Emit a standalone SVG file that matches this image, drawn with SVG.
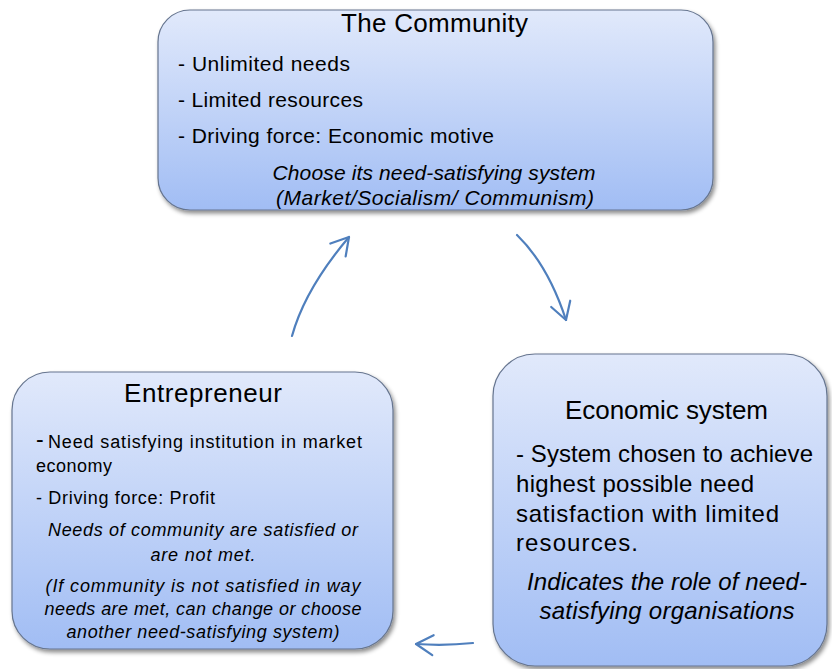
<svg xmlns="http://www.w3.org/2000/svg" width="832" height="669" viewBox="0 0 832 669">
  <style>
    .box { fill: url(#boxFill); stroke: #66758f; stroke-width: 1.2; filter: url(#shadow); }
    text { font-family: "Liberation Sans", Arial, sans-serif; fill: #000; }
    .title { font-size: 26px; text-anchor: middle; }
    .body { font-size: 21px; }
    .ent { font-size: 18px; }
    .eco { font-size: 24px; }
    .it { font-style: italic; text-anchor: middle; }
    .conn { fill: none; stroke: #4f7fbd; stroke-width: 2.2; stroke-linecap: round; marker-end: url(#chevron); }
  </style>
  <defs>
    <linearGradient id="boxFill" x1="0" y1="0" x2="0" y2="1">
      <stop offset="0" stop-color="#e1e9fb"/>
      <stop offset="1" stop-color="#a1bdf4"/>
    </linearGradient>
    <filter id="shadow" x="-10%" y="-10%" width="125%" height="130%">
      <feDropShadow dx="2" dy="3" stdDeviation="2" flood-color="#000" flood-opacity="0.45"/>
    </filter>
    <marker id="chevron" markerUnits="userSpaceOnUse" viewBox="-20 -12 22 24" refX="0" refY="0" markerWidth="22" markerHeight="24" orient="auto">
      <path d="M -17,-10 L 0,0 L -17,10" fill="none" stroke="#4f7fbd" stroke-width="2.2" stroke-linecap="round" stroke-linejoin="round"/>
    </marker>
  </defs>

  <g id="connectors">
    <path class="conn" d="M 292,336 Q 305,289 349,237"/>
    <path class="conn" d="M 517,235 Q 548,265 566,320"/>
    <path class="conn" d="M 473,643 Q 445,646 416,644"/>
  </g>

  <g id="community">
    <rect class="box" x="158" y="10" width="555" height="200" rx="32" ry="32"/>
    <text class="title" x="434.5" y="32" textLength="187">The Community</text>
    <text class="body" x="178" y="71" textLength="172">- Unlimited needs</text>
    <text class="body" x="178" y="107" textLength="185">- Limited resources</text>
    <text class="body" x="178" y="143" textLength="316">- Driving force: Economic motive</text>
    <text class="body it" x="434" y="180" textLength="323">Choose its need-satisfying system</text>
    <text class="body it" x="435" y="205" textLength="318">(Market/Socialism/ Communism)</text>
  </g>

  <g id="entrepreneur">
    <rect class="box" x="12" y="372" width="381" height="277" rx="38" ry="38"/>
    <text class="title" x="203" y="402" textLength="158">Entrepreneur</text>
    <text x="36" y="447" font-size="23">-</text>
    <text class="ent" x="48" y="448" textLength="314">Need satisfying institution in market</text>
    <text class="ent" x="36" y="472" textLength="76">economy</text>
    <text class="ent" x="36" y="504" textLength="179">- Driving force: Profit</text>
    <text class="ent it" x="203" y="536" textLength="310">Needs of community are satisfied or</text>
    <text class="ent it" x="203" y="561" textLength="105">are not met.</text>
    <text class="ent it" x="203" y="592" textLength="315">(If community is not satisfied in way</text>
    <text class="ent it" x="203" y="615" textLength="317">needs are met, can change or choose</text>
    <text class="ent it" x="203" y="638" textLength="273">another need-satisfying system)</text>
  </g>

  <g id="economic-system">
    <rect class="box" x="493" y="354" width="334" height="312" rx="42" ry="42"/>
    <text class="title" x="666.5" y="419" font-size="24" textLength="203">Economic system</text>
    <text class="eco" x="516" y="462" textLength="297">- System chosen to achieve</text>
    <text class="eco" x="516" y="492" textLength="238">highest possible need</text>
    <text class="eco" x="516" y="522" textLength="263">satisfaction with limited</text>
    <text class="eco" x="516" y="551" textLength="122">resources.</text>
    <text class="eco it" x="667" y="590" font-size="23" textLength="280">Indicates the role of need-</text>
    <text class="eco it" x="667" y="619" font-size="23" textLength="255">satisfying organisations</text>
  </g>
</svg>
